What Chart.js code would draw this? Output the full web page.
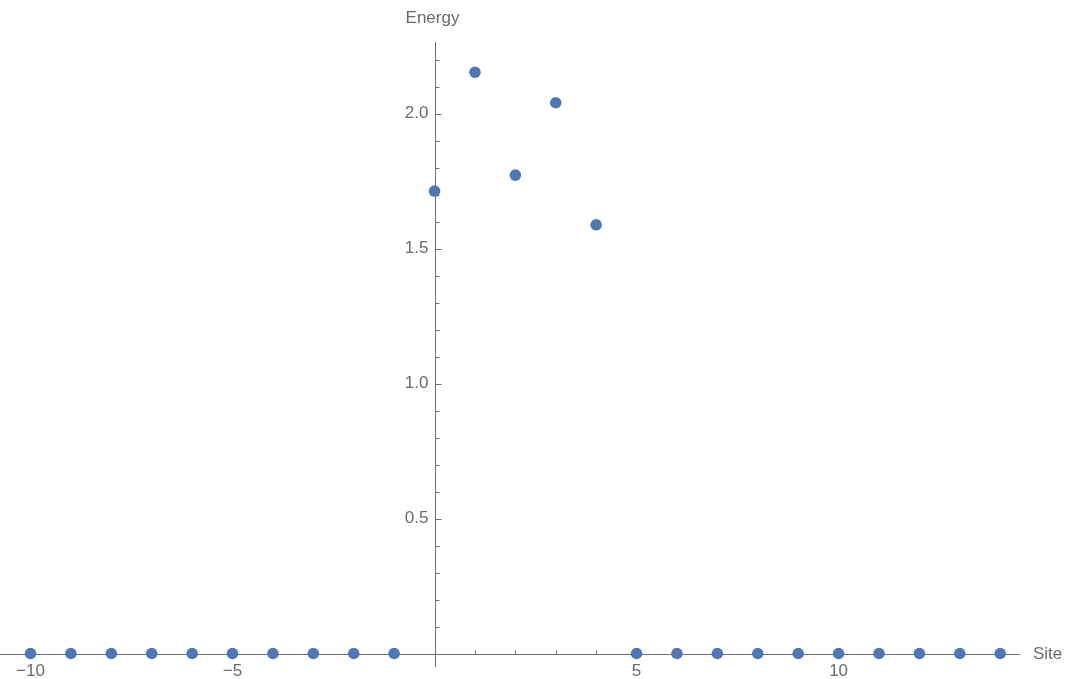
<!DOCTYPE html>
<html>
<head>
<meta charset="utf-8">
<title>Energy vs Site</title>
<script src="https://cdn.jsdelivr.net/npm/chart.js@4"></script>
<style>
  html, body { margin: 0; padding: 0; background: #fff; }
  canvas { display: block; }
</style>
</head>
<body>
<canvas id="can" width="1066" height="679"></canvas>
<script>

// data
const sites  = [-10, -9, -8, -7, -6, -5, -4, -3, -2, -1, 0, 1, 2, 3, 4, 5, 6, 7, 8, 9, 10, 11, 12, 13, 14]
const energy = [0, 0, 0, 0, 0, 0, 0, 0, 0, 0, 1.713, 2.153, 1.772, 2.040, 1.588, 0, 0, 0, 0, 0, 0, 0, 0, 0, 0]

const xTickLabels = [-10, -5, 5, 10]
const yTickLabels = [0.5, 1.0, 1.5, 2.0]
const xAxisTitle = 'Site'
const yAxisTitle = 'Energy'

const axisColor = '#6e6e6e'
const textColor = '#6a6a6a'
const pointColor = '#5077b3'
const fontFamily = '"Liberation Sans", Arial, sans-serif'

let punkti = []
for (let i = 0; i < sites.length; i++) {
    punkti.push({ x: sites[i], y: energy[i] })
}

function minus(v) {
    return String(v).replace('-', '\u2212')
}

// axes crossing at the origin, Mathematica style
const osiPlugin = {
    id: 'osi',
    beforeDatasetsDraw(chart) {
        const ctx = chart.ctx
        const sx = chart.scales.x
        const sy = chart.scales.y
        const area = chart.chartArea
        const x0 = Math.round(sx.getPixelForValue(0)) + 0.5
        const y0 = Math.round(sy.getPixelForValue(0)) + 0.5

        ctx.save()
        ctx.strokeStyle = axisColor
        ctx.lineWidth = 1

        // axis lines
        ctx.beginPath()
        ctx.moveTo(area.left, y0)
        ctx.lineTo(area.right, y0)
        ctx.moveTo(x0, area.bottom)
        ctx.lineTo(x0, area.top)
        ctx.stroke()

        // x ticks, pointing up
        ctx.beginPath()
        for (let v = Math.ceil(sx.min); v <= sx.max; v++) {
            if (v === 0) continue
            const px = Math.round(sx.getPixelForValue(v)) + 0.5
            const len = (v % 5 === 0) ? 6 : 4
            ctx.moveTo(px, y0)
            ctx.lineTo(px, y0 - len)
        }
        // y ticks, pointing right
        for (let k = 1; k / 10 <= sy.max; k++) {
            const py = Math.round(sy.getPixelForValue(k / 10)) + 0.5
            const len = (k % 5 === 0) ? 6 : 4
            ctx.moveTo(x0, py)
            ctx.lineTo(x0 + len, py)
        }
        ctx.stroke()

        // tick labels
        ctx.fillStyle = textColor
        ctx.font = '17px ' + fontFamily
        ctx.textAlign = 'center'
        ctx.textBaseline = 'top'
        xTickLabels.forEach(v => {
            ctx.fillText(minus(v), sx.getPixelForValue(v), y0 + 8)
        })
        ctx.textAlign = 'right'
        ctx.textBaseline = 'middle'
        yTickLabels.forEach(v => {
            ctx.fillText(v.toFixed(1), x0 - 7, sy.getPixelForValue(v))
        })

        // axis titles
        ctx.textAlign = 'left'
        ctx.fillText(xAxisTitle, area.right + 13, y0)
        ctx.textAlign = 'center'
        ctx.fillText(yAxisTitle, x0 - 3, area.top - 24)
        ctx.restore()
    }
}

const config = {
    type: 'scatter',
    data: {
        datasets: [{
            label: yAxisTitle,
            data: punkti,
            backgroundColor: pointColor,
            borderColor: pointColor,
            borderWidth: 0,
            pointRadius: 5.8,
            pointHoverRadius: 5.8,
            clip: false
        }]
    },
    options: {
        responsive: false,
        animation: false,
        devicePixelRatio: 1,
        layout: {
            autoPadding: false,
            padding: { left: 0, right: 46, top: 42, bottom: 12 }
        },
        plugins: {
            legend: { display: false },
            tooltip: { enabled: false }
        },
        scales: {
            x: { type: 'linear', min: -10.755, max: 14.49, display: false },
            y: { type: 'linear', min: -0.05, max: 2.265, display: false }
        }
    },
    plugins: [osiPlugin]
}

let chart = new Chart(document.getElementById('can'), config)

</script>
</body>
</html>
